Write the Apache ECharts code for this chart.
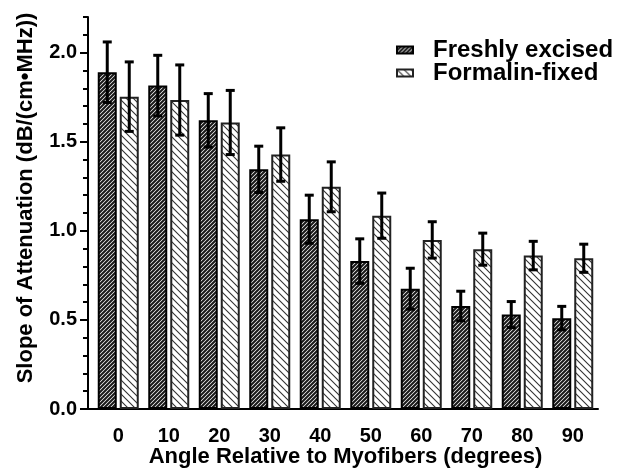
<!DOCTYPE html>
<html>
<head>
<meta charset="utf-8">
<script src="https://cdn.jsdelivr.net/npm/echarts@6/dist/echarts.min.js"></script>
<style>html,body{margin:0;padding:0;background:#fff}#c{width:635px;height:470px}</style>
</head>
<body>
<div id="c"></div>
<script>
var categories = ['0','10','20','30','40','50','60','70','80','90'];
var freshMean = [1.89, 1.815, 1.62, 1.345, 1.065, 0.83, 0.675, 0.578, 0.53, 0.51];
var freshErr = [0.17, 0.17, 0.15, 0.13, 0.135, 0.125, 0.115, 0.083, 0.073, 0.066];
var formalinMean = [1.753, 1.734, 1.608, 1.428, 1.247, 1.085, 0.949, 0.897, 0.861, 0.846];
var formalinErr = [0.195, 0.197, 0.18, 0.15, 0.14, 0.127, 0.102, 0.09, 0.08, 0.079];
var yMajorTicks = [0, 0.5, 1.0, 1.5, 2.0];
var seriesNames = ['Freshly excised', 'Formalin-fixed'];

function makePattern(size, bg, fg, lw, dir) {
  var c = document.createElement('canvas');
  c.width = size; c.height = size;
  var ctx = c.getContext('2d');
  ctx.fillStyle = bg; ctx.fillRect(0, 0, size, size);
  ctx.strokeStyle = fg; ctx.lineWidth = lw;
  ctx.beginPath();
  if (dir === '/') {
    for (var k = -1; k <= 1; k++) {
      ctx.moveTo(k * size - 1, size + 1); ctx.lineTo(k * size + size + 1, -1);
    }
  } else {
    for (var k = -1; k <= 1; k++) {
      ctx.moveTo(k * size - 1, -1); ctx.lineTo(k * size + size + 1, size + 1);
    }
  }
  ctx.stroke();
  return c;
}
var freshPat = {image: makePattern(4, '#ffffff', '#1a1a1a', 2.1, '/'), repeat: 'repeat'};
var formPat = {image: makePattern(7, '#ffffff', '#333333', 1.1, '\\'), repeat: 'repeat'};

var BAR_W = 19, GAP = 3;
function errData(mean, err) {
  return mean.map(function (m, i) { return [i, m - err[i], m + err[i]]; });
}
function errRender(offset) {
  return function (params, api) {
    var i = api.value(0);
    var lo = api.coord([i, api.value(1)]);
    var hi = api.coord([i, api.value(2)]);
    var x = lo[0] + offset;
    var cap = 4.5;
    var st = {stroke: '#000', lineWidth: 3, fill: null};
    return {type: 'group', children: [
      {type: 'line', shape: {x1: x, y1: lo[1], x2: x, y2: hi[1]}, style: st},
      {type: 'line', shape: {x1: x - cap, y1: lo[1], x2: x + cap, y2: lo[1]}, style: st},
      {type: 'line', shape: {x1: x - cap, y1: hi[1], x2: x + cap, y2: hi[1]}, style: st}
    ]};
  };
}
var off = (BAR_W + GAP) / 2;
var font = 'Liberation Sans, Arial, Helvetica, sans-serif';
var GL = 93, GR = 37, GT = 17, GB = 61, YOFF = 5;

var chart = echarts.init(document.getElementById('c'), null, {renderer: 'canvas'});
chart.setOption({
  animation: false,
  backgroundColor: '#fff',
  textStyle: {fontFamily: font},
  grid: {left: GL, right: GR, top: GT, bottom: GB, containLabel: false, outerBoundsMode: 'none'},
  graphic: [{
    type: 'line', shape: {x1: GL - YOFF, y1: 470 - GB, x2: GL, y2: 470 - GB},
    style: {stroke: '#000', lineWidth: 2}, z: 10
  }],
  legend: {
    data: seriesNames,
    orient: 'vertical', left: 396, top: 38, padding: 0,
    itemWidth: 16, itemHeight: 7, itemGap: -1,
    icon: 'rect',
    textStyle: {fontFamily: font, fontWeight: 'bold', fontSize: 24, lineHeight: 21, color: '#000', padding: [0, 0, 0, 15]}
  },
  xAxis: {
    type: 'category', data: categories,
    axisLine: {lineStyle: {color: '#000', width: 2}},
    axisTick: {alignWithLabel: true, length: 7, lineStyle: {color: '#000', width: 2}},
    axisLabel: {fontFamily: font, fontWeight: 'bold', fontSize: 20, color: '#000', margin: 17},
    name: 'Angle Relative to Myofibers (degrees)', nameLocation: 'middle', nameGap: 37, nameMoveOverlap: false,
    nameTextStyle: {fontFamily: font, fontWeight: 'bold', fontSize: 22, color: '#000'}
  },
  yAxis: [{
    type: 'value', min: 0, max: 2.2, offset: YOFF, position: 'left',
    axisLine: {show: true, lineStyle: {color: '#000', width: 2}},
    axisTick: {show: true, length: 8, customValues: yMajorTicks, lineStyle: {color: '#000', width: 2}},
    axisLabel: {customValues: yMajorTicks, fontFamily: font, fontWeight: 'bold', fontSize: 20, color: '#000', margin: 11,
      formatter: function (v) { return v.toFixed(1); }},
    splitLine: {show: false},
    name: 'Slope of Attenuation (dB/(cm•MHz))', nameLocation: 'middle', nameGap: 51, nameMoveOverlap: false,
    nameTextStyle: {fontFamily: font, fontWeight: 'bold', fontSize: 22, color: '#000', padding: [0, 0, 0, 30]}
  }, {
    type: 'value', min: 0, max: 2.2, interval: 0.1, offset: YOFF, position: 'left',
    axisLine: {show: false},
    axisTick: {show: true, length: 5, lineStyle: {color: '#000', width: 2}},
    axisLabel: {show: false},
    splitLine: {show: false}
  }],
  series: [{
    name: seriesNames[0], type: 'bar', data: freshMean, barWidth: BAR_W, barGap: (GAP / BAR_W * 100) + '%',
    itemStyle: {color: freshPat, borderColor: '#000', borderWidth: 2}
  }, {
    name: seriesNames[1], type: 'bar', data: formalinMean, barWidth: BAR_W,
    itemStyle: {color: formPat, borderColor: '#222', borderWidth: 2}
  }, {
    type: 'custom', name: 'errFresh', renderItem: errRender(-off), data: errData(freshMean, freshErr),
    encode: {x: 0, y: [1, 2]}, z: 5, silent: true
  }, {
    type: 'custom', name: 'errForm', renderItem: errRender(off), data: errData(formalinMean, formalinErr),
    encode: {x: 0, y: [1, 2]}, z: 5, silent: true
  }]
});
</script>
</body>
</html>
